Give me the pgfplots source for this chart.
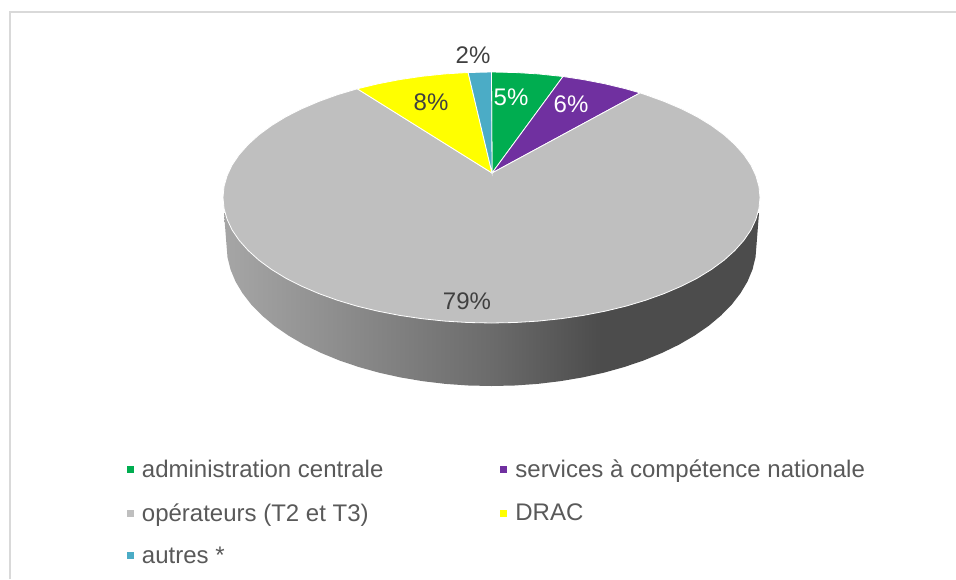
\documentclass[border=0pt]{standalone}
\usepackage{fontspec}
\setmainfont{Liberation Sans}
\usepackage{pgfplots}
\pgfplotsset{compat=1.18}

\definecolor{cgreen}{HTML}{00AD50}
\definecolor{cpurple}{HTML}{7030A0}
\definecolor{cgrey}{HTML}{BFBFBF}
\definecolor{cyellow}{HTML}{FFFF00}
\definecolor{cblue}{HTML}{4BACC6}
\definecolor{labeltext}{HTML}{404040}
\definecolor{legendtext}{HTML}{595959}
\definecolor{frameline}{HTML}{D9D9D9}

% bbox of the side maps onto 25bp..75bp
\pgfdeclarehorizontalshading{sidegrey}{100bp}{
  color(0bp)=(black!35!white);
  color(25bp)=(black!35!white);
  color(35bp)=(black!44!white);
  color(50bp)=(black!58!white);
  color(60bp)=(black!70!white);
  color(75bp)=(black!70!white);
  color(100bp)=(black!70!white)}

\newcommand{\lab}{\fontsize{24}{28}\selectfont}

\begin{document}
\begin{tikzpicture}
\begin{axis}[
    scale only axis,
    width=956pt, height=579pt,
    xmin=0, xmax=956, ymin=0, ymax=579,
    y dir=reverse,
    hide axis,
    legend columns=2,
    legend cell align=left,
    legend image code/.code={\fill[#1,draw=none] (0pt,-3.5pt) rectangle (7pt,3.5pt);},
    legend style={
        at={(axis description cs:0.1328,0.2051)}, anchor=north west,
        draw=none, fill=none, inner sep=0pt, outer sep=0pt,
        font=\lab, text=legendtext,
        nodes={inner sep=0pt},
        row sep=24pt,
        /tikz/column 1/.style={column sep=8pt},
        /tikz/column 2/.style={column sep=117pt},
        /tikz/column 3/.style={column sep=8pt}},
]
% keep the whole canvas in the page
\path (axis cs:0,0) rectangle (axis cs:956,579);

% chart frame
\addplot[forget plot, frameline, line width=2pt] coordinates {(10,579)(10,11.5)(956,11.5)};

% side of the disc
\addplot[forget plot, draw=none, shade, shading=sidegrey] coordinates {
(224,213)(226.5,245)(227.5,257.3)(230.5,269.5)(235.5,281.5)(242.5,293.2)(251.3,304.6)
(262,315.5)(274.4,325.9)(288.5,335.6)(304.1,344.7)(321.2,353)(339.5,360.5)(359,367.1)
(379.5,372.8)(400.9,377.5)(422.9,381.2)(445.5,383.9)(468.4,385.5)(491.5,386)
(514.6,385.5)(537.5,383.9)(560.1,381.2)(582.1,377.5)(603.5,372.8)(624,367.1)(643.5,360.5)
(661.8,353)(678.9,344.7)(694.5,335.6)(708.6,325.9)(721,315.5)(731.7,304.6)(740.5,293.2)
(747.5,281.5)(752.5,269.5)(755.5,257.3)(756.5,245)(759,213)} --cycle;

% top of the disc, clockwise from 12 o'clock
\addplot[fill=cgreen, draw=white, line width=0.8pt] coordinates {
(492,173)(491.5,72)(514.9,72.5)(538.1,73.9)(561,76.3)(563,76.5)} --cycle;
\addlegendentry{administration centrale}

\addplot[fill=cpurple, draw=white, line width=0.8pt] coordinates {
(492,173)(563,76.5)(583.3,79.6)(605,83.8)(625.75,88.8)(640,92.9)} --cycle;
\addlegendentry{services à compétence nationale}

\addplot[fill=cgrey, draw=white, line width=0.8pt] coordinates {
(492,173)(640,92.9)(645.5,94.7)(664.1,101.4)(681.4,108.8)(697.2,116.8)(711.4,125.5)(724,134.75)
(734.8,144.5)(743.8,154.6)(750.9,165)(755.9,175.7)(759,186.6)(760,197.5)(759,208.4)(755.9,219.3)
(750.9,230)(743.8,240.4)(734.8,250.5)(724,260.25)(711.4,269.5)(697.2,278.2)(681.4,286.2)
(664.1,293.6)(645.5,300.3)(625.75,306.2)(605,311.2)(583.3,315.4)(561,318.7)(538.1,321.1)
(514.9,322.5)(491.5,323)(468.1,322.5)(444.9,321.1)(422,318.7)(399.7,315.4)(378,311.2)
(357.25,306.2)(337.5,300.3)(318.9,293.6)(301.6,286.2)(285.8,278.2)(271.6,269.5)(259,260.25)
(248.2,250.5)(239.2,240.4)(232.1,230)(227.1,219.3)(224,208.4)(223,197.5)(224,186.6)(227.1,175.7)
(232.1,165)(239.2,154.6)(248.2,144.5)(259,134.75)(271.6,125.5)(285.8,116.8)(301.6,108.8)
(318.9,101.4)(337.5,94.7)(357.25,88.8)} --cycle;
\addlegendentry{opérateurs (T2 et T3)}

\addplot[fill=cyellow, draw=white, line width=0.8pt] coordinates {
(492,173)(357.25,88.8)(378,83.8)(399.7,79.6)(422,76.3)(444.9,73.9)(468.1,72.5)} --cycle;
\addlegendentry{DRAC}

\addplot[fill=cblue, draw=white, line width=0.8pt] coordinates {
(492,173)(468.1,72.5)(491.5,72)} --cycle;
\addlegendentry{autres *}

% data labels
\node[font=\lab, text=labeltext] at (axis cs:473,55) {2\%};
\node[font=\lab, text=white] at (axis cs:511,97) {5\%};
\node[font=\lab, text=white] at (axis cs:571,104) {6\%};
\node[font=\lab, text=labeltext] at (axis cs:431,102) {8\%};
\node[font=\lab, text=labeltext] at (axis cs:467,301) {79\%};
\end{axis}
\end{tikzpicture}
\end{document}
